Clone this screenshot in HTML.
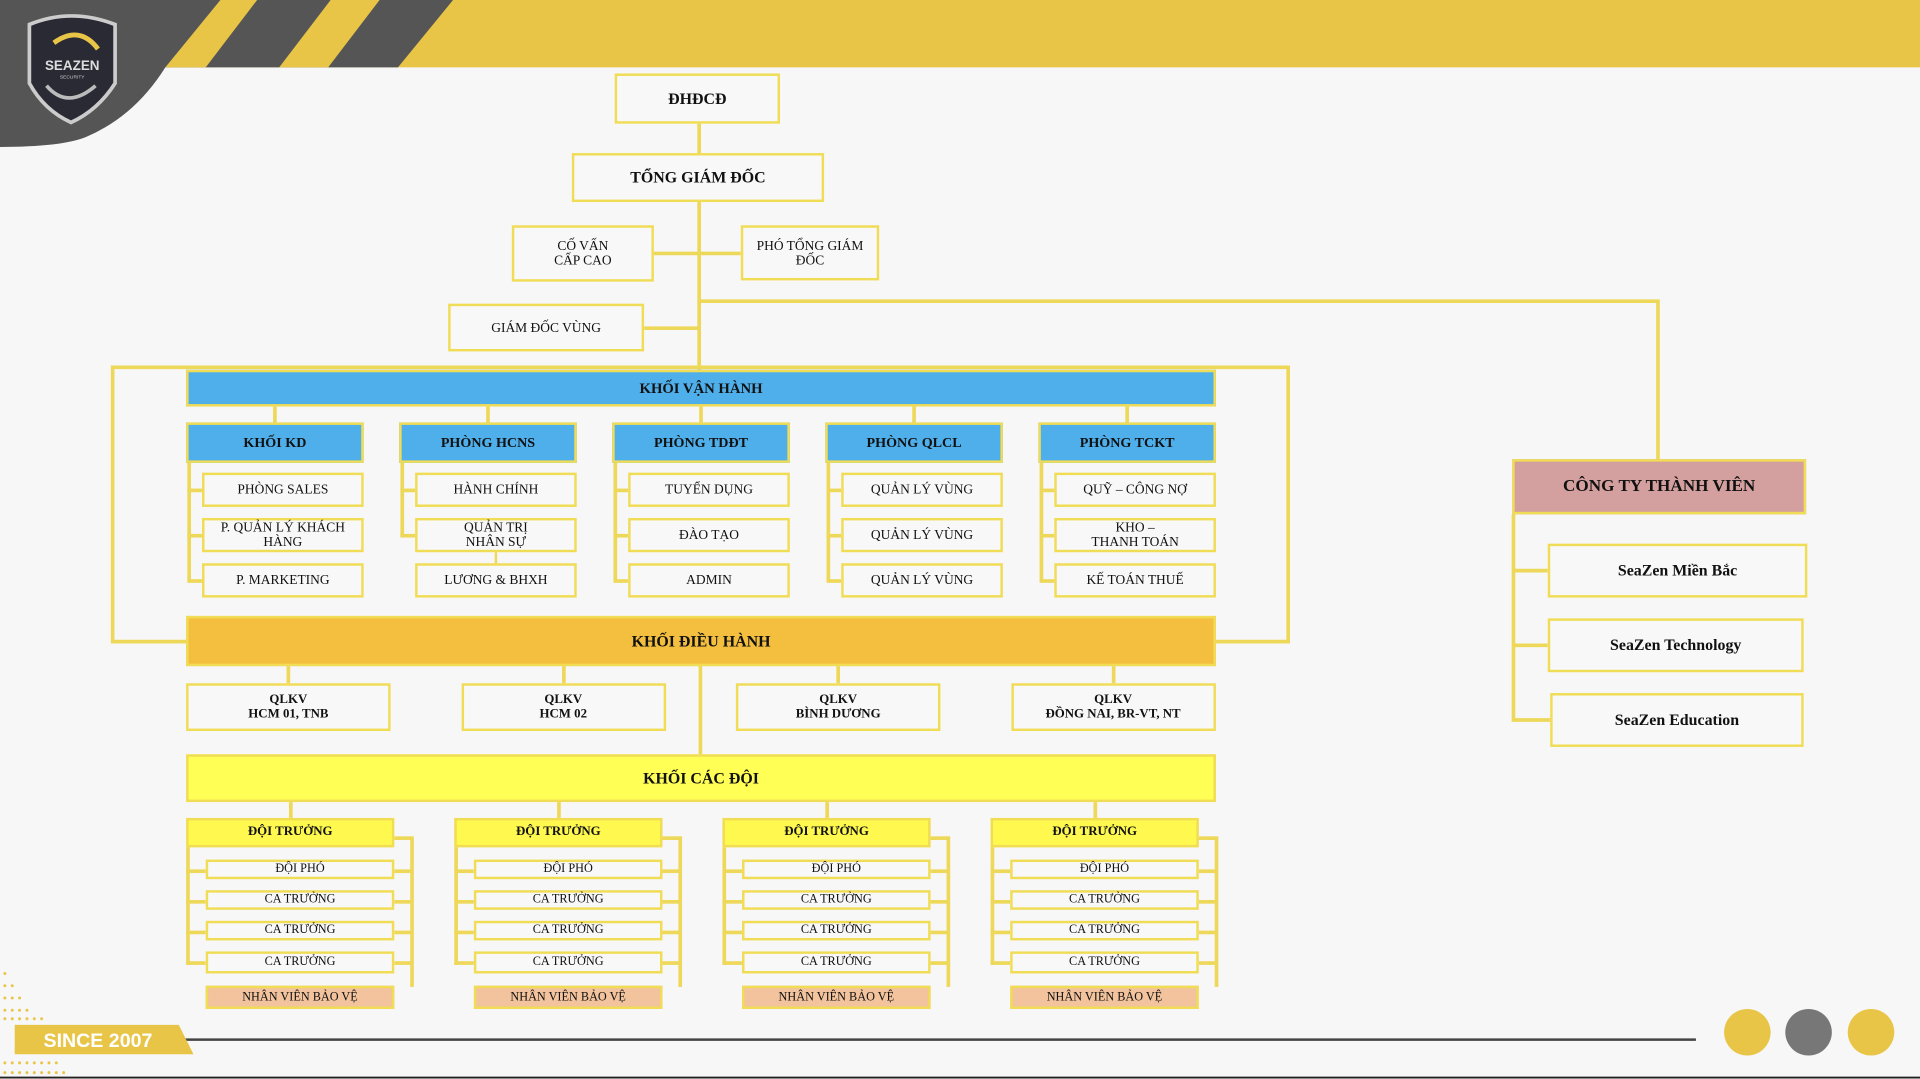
<!DOCTYPE html>
<html><head><meta charset="utf-8"><style>
html,body{margin:0;padding:0;width:1920px;height:1079px;overflow:hidden;background:#f7f7f7}
#s{position:absolute;left:0;top:0;width:1568px;height:881px;transform:scale(1.22449);transform-origin:0 0;font-family:"Liberation Serif",serif;color:#111}
.b{position:absolute;box-sizing:border-box;border:2.5px solid #F0DC55;background:#f8f8f8;display:flex;align-items:center;justify-content:center;text-align:center;font-size:11px;line-height:12px}
.h{font-weight:bold;font-size:13px}
.bl{background:#4FAFEB;font-weight:bold;font-size:12px}
.ln{position:absolute;background:#EED85A}
.dt{background:#FFF94F;font-weight:bold;font-size:10.5px}
.sm{font-size:10px}
.nv{background:#F2C39C;font-size:10px}
</style></head><body><div id="s">
<svg width="1568" height="881" style="position:absolute;left:0;top:0">
<rect x="0" y="0" width="1568" height="55" fill="#E8C547"/>
<path d="M0 0 H370 L325 55 H135 Q110 95 70 112 Q50 120 0 120 Z" fill="#555"/>
<polygon points="180,0 210,0 168,55 135,55" fill="#E8C547"/>
<polygon points="270,0 310,0 268,55 228,55" fill="#E8C547"/>
<path d="M24 20 Q58 6 94 20 L94 68 Q80 90 58 100 Q36 90 24 68 Z" fill="#2a2a35" stroke="#ccc" stroke-width="3"/>
<path d="M44 35 Q65 20 80 40" stroke="#E8C547" stroke-width="4" fill="none"/>
<path d="M38 70 Q55 90 78 70" stroke="#bbb" stroke-width="3" fill="none"/>
<text x="59" y="57" font-family="Liberation Sans" font-weight="bold" font-size="11" fill="#ddd" text-anchor="middle">SEAZEN</text>
<text x="59" y="64" font-family="Liberation Sans" font-size="4" fill="#ccc" text-anchor="middle">SECURITY</text>
<line x1="143" y1="849" x2="1385" y2="849" stroke="#444" stroke-width="2"/>
<polygon points="12,837 146,837 158,861 12,861" fill="#E8C547"/>
<text x="80" y="855" font-family="Liberation Sans" font-weight="bold" font-size="16" fill="#fff" text-anchor="middle">SINCE 2007</text>
<circle cx="1427" cy="843" r="19" fill="#E8C547"/><circle cx="1477" cy="843" r="19" fill="#777"/><circle cx="1528" cy="843" r="19" fill="#E8C547"/>
<g fill="#E8C547">
<circle cx="4" cy="795" r="1.2"/><circle cx="4" cy="805" r="1.2"/><circle cx="10" cy="805" r="1.2"/>
<circle cx="4" cy="815" r="1.2"/><circle cx="10" cy="815" r="1.2"/><circle cx="16" cy="815" r="1.2"/>
<circle cx="4" cy="825" r="1.2"/><circle cx="10" cy="825" r="1.2"/><circle cx="16" cy="825" r="1.2"/><circle cx="22" cy="825" r="1.2"/>
<circle cx="4" cy="832" r="1.2"/><circle cx="10" cy="832" r="1.2"/><circle cx="16" cy="832" r="1.2"/><circle cx="22" cy="832" r="1.2"/><circle cx="28" cy="832" r="1.2"/><circle cx="34" cy="832" r="1.2"/>
<circle cx="4" cy="868" r="1.2"/><circle cx="10" cy="868" r="1.2"/><circle cx="16" cy="868" r="1.2"/><circle cx="22" cy="868" r="1.2"/><circle cx="28" cy="868" r="1.2"/><circle cx="34" cy="868" r="1.2"/><circle cx="40" cy="868" r="1.2"/><circle cx="46" cy="868" r="1.2"/>
<circle cx="4" cy="876" r="1.2"/><circle cx="10" cy="876" r="1.2"/><circle cx="16" cy="876" r="1.2"/><circle cx="22" cy="876" r="1.2"/><circle cx="28" cy="876" r="1.2"/><circle cx="34" cy="876" r="1.2"/><circle cx="40" cy="876" r="1.2"/><circle cx="46" cy="876" r="1.2"/><circle cx="52" cy="876" r="1.2"/>
</g>
<line x1="0" y1="880" x2="1568" y2="880" stroke="#222" stroke-width="1.5"/>
<g stroke="#EED85A" stroke-width="3" fill="none">
<line x1="571" y1="100" x2="571" y2="303"/>
<line x1="572" y1="543" x2="572" y2="617"/>
<line x1="534" y1="207" x2="605" y2="207"/>
<line x1="526" y1="268" x2="571" y2="268"/>
<polyline points="571,246 1354,246 1354,375"/>
<polyline points="152,524 92,524 92,300 1052,300 1052,524 993,524"/>
<polyline points="1236,420 1236,588 1266,588"/><line x1="1236" y1="466" x2="1264" y2="466"/><line x1="1236" y1="527" x2="1264" y2="527"/>
</g>
</svg>
<div class="b h" style="left:502px;top:60px;width:135px;height:41px">ĐHĐCĐ</div>
<div class="b h" style="left:467px;top:125px;width:206px;height:40px">TỔNG GIÁM ĐỐC</div>
<div class="b" style="left:418px;top:184px;width:116px;height:46px">CỐ VẤN<br>CẤP CAO</div>
<div class="b" style="left:605px;top:184px;width:113px;height:45px">PHÓ TỔNG GIÁM<br>ĐỐC</div>
<div class="b" style="left:366px;top:248px;width:160px;height:39px">GIÁM ĐỐC VÙNG</div>
<div class="b bl h" style="left:152px;top:302px;width:841px;height:30px">KHỐI VẬN HÀNH</div>
<div id="depts"></div>
<div class="b h" style="left:152px;top:503px;width:841px;height:41px;background:#F4BF3E">KHỐI ĐIỀU HÀNH</div>
<div class="b h" style="left:152px;top:616px;width:841px;height:39px;background:#FFFF55">KHỐI CÁC ĐỘI</div>
<div class="b h" style="left:1235px;top:375px;width:240px;height:45px;background:#D4A09F;font-size:14px">CÔNG TY THÀNH VIÊN</div>
<div class="b h" style="left:1264px;top:444px;width:212px;height:44px">SeaZen Miền Bắc</div>
<div class="b h" style="left:1264px;top:505px;width:209px;height:44px">SeaZen Technology</div>
<div class="b h" style="left:1266px;top:566px;width:207px;height:44px">SeaZen Education</div>
<script>
var s=document.getElementById('s'),h='';
function ln(x,y,w,hh){h+='<div class="ln" style="left:'+x+'px;top:'+y+'px;width:'+w+'px;height:'+hh+'px"></div>';}
function bx(c,x,y,w,hh,t){h+='<div class="b '+c+'" style="left:'+x+'px;top:'+y+'px;width:'+w+'px;height:'+hh+'px">'+t+'</div>';}
var D=[['KHỐI KD',['PHÒNG SALES','P. QUẢN LÝ KHÁCH<br>HÀNG','P. MARKETING']],['PHÒNG HCNS',['HÀNH CHÍNH','QUẢN TRỊ<br>NHÂN SỰ','LƯƠNG &amp; BHXH']],['PHÒNG TDĐT',['TUYỂN DỤNG','ĐÀO TẠO','ADMIN']],['PHÒNG QLCL',['QUẢN LÝ VÙNG','QUẢN LÝ VÙNG','QUẢN LÝ VÙNG']],['PHÒNG TCKT',['QUỸ – CÔNG NỢ','KHO –<br>THANH TOÁN','KẾ TOÁN THUẾ']]];
var rows=[386,423,460];
D.forEach(function(d,i){var x=152+i*174;ln(x+71,332,3,13);ln(x+1,378,3,i==1?60:96);
 d[1].forEach(function(t,j){if(!(i==1&&j==2))ln(x+1,rows[j]+13,12,3);bx('',x+13,rows[j],132,28,t);});
 if(i==1)ln(x+78,451,2,9);
 bx('bl',x,345,145,33,'<span style="font-size:11.5px">'+d[0]+'</span>');});
var Q=['QLKV<br>HCM 01, TNB','QLKV<br>HCM 02','QLKV<br>BÌNH DƯƠNG','QLKV<br>ĐỒNG NAI, BR-VT, NT'];
Q.forEach(function(t,i){var x=152+i*224.5;ln(x+82,544,3,14);bx('h',x,558,167,39,'<span style="font-size:10.5px">'+t+'</span>');});
var cy=[702,727,752,777];
for(var g=0;g<4;g++){var x=152+g*219;ln(x+84,655,3,13);ln(x,692,3,96);ln(x+183,683,3,123);ln(x+170,683,14,3);
 cy.forEach(function(y,j){ln(x,y+8,16,3);ln(x+170,y+8,14,3);bx('sm',x+16,y,154,j==3?18:16,j==0?'ĐỘI PHÓ':'CA TRƯỞNG');});
 bx('nv',x+16,805,154,19,'NHÂN VIÊN BẢO VỆ');
 bx('dt',x,668,170,24,'ĐỘI TRƯỞNG');}
document.getElementById('depts').outerHTML=h;
</script>
</div></body></html>
